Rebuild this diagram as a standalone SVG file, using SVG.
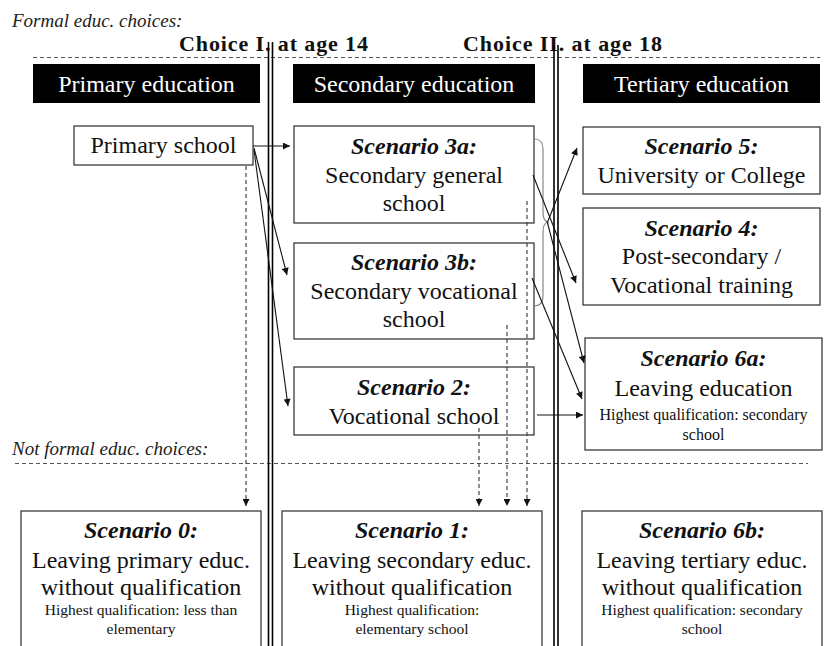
<svg xmlns="http://www.w3.org/2000/svg" width="829" height="646" viewBox="0 0 829 646">
<defs>
<style>
text{font-family:"Liberation Serif","Times New Roman",serif;fill:#111;}
.t{font-size:24px;text-anchor:middle;}
.h{font-size:24px;font-weight:bold;font-style:italic;text-anchor:middle;}
.s{font-size:16px;text-anchor:middle;}
.s2{font-size:15.5px;text-anchor:middle;}
.hdr{font-size:24px;fill:#fff;text-anchor:middle;}
.lbl{font-size:19px;font-style:italic;fill:#222;}
.ch{font-size:22px;font-weight:bold;}
.box{fill:#fff;stroke:#3a3a3a;stroke-width:1.3;}
.hbox{fill:#000;}
.dl{stroke:#555;stroke-width:1;stroke-dasharray:4 3;fill:none;}
.vl{stroke:#000;stroke-width:1.6;}
.ar{stroke:#111;stroke-width:1.1;fill:none;marker-end:url(#ah);}
.da{stroke:#333;stroke-width:1.1;stroke-dasharray:4 3;fill:none;marker-end:url(#ah);}
.br{stroke:#888;stroke-width:1.2;fill:none;}
</style>
<marker id="ah" viewBox="0 0 10 10" refX="10" refY="5" markerWidth="8" markerHeight="7" markerUnits="userSpaceOnUse" orient="auto">
<path d="M0,0 L10,5 L0,10 z" fill="#111"/>
</marker>
</defs>
<rect width="829" height="646" fill="#fff"/>

<g id="labels">
<text class="lbl" x="12" y="27">Formal educ. choices:</text>
<text class="lbl" x="12" y="455">Not formal educ. choices:</text>
<text class="ch" x="179" y="51" textLength="189">Choice I. at age 14</text>
<text class="ch" x="463" y="51" textLength="199">Choice II. at age 18</text>
</g>

<g id="dividers">
<line class="dl" x1="33" y1="57.5" x2="820" y2="57.5"/>
<line class="dl" x1="15" y1="463.5" x2="808" y2="463.5"/>
<line class="vl" x1="268.5" y1="42" x2="268.5" y2="646"/>
<line class="vl" x1="272.5" y1="42" x2="272.5" y2="646"/>
<line class="vl" x1="554" y1="45" x2="554" y2="646"/>
<line class="vl" x1="558" y1="45" x2="558" y2="646"/>
</g>

<g id="header-primary"><rect class="hbox" x="33" y="64" width="227" height="39"/><text class="hdr" x="146.5" y="92">Primary education</text></g>
<g id="header-secondary"><rect class="hbox" x="293" y="64" width="242" height="39"/><text class="hdr" x="414" y="92">Secondary education</text></g>
<g id="header-tertiary"><rect class="hbox" x="583" y="64" width="237" height="39"/><text class="hdr" x="701.5" y="92">Tertiary education</text></g>

<g id="primary-school"><rect class="box" x="74" y="126" width="179" height="39"/><text class="t" x="163.5" y="153">Primary school</text></g>

<g id="scenario-3a"><rect class="box" x="294" y="126" width="240" height="97"/>
<text class="h" x="414" y="154">Scenario 3a:</text><text class="t" x="414" y="183">Secondary general</text><text class="t" x="414" y="211">school</text></g>

<g id="scenario-3b"><rect class="box" x="294" y="243" width="240" height="96"/>
<text class="h" x="414" y="270">Scenario 3b:</text><text class="t" x="414" y="299">Secondary vocational</text><text class="t" x="414" y="327">school</text></g>

<g id="scenario-2"><rect class="box" x="294" y="367" width="240" height="68"/>
<text class="h" x="414" y="395">Scenario 2:</text><text class="t" x="414" y="424">Vocational school</text></g>

<g id="scenario-5"><rect class="box" x="583" y="127" width="237" height="67"/>
<text class="h" x="701.5" y="154">Scenario 5:</text><text class="t" x="701.5" y="183">University or College</text></g>

<g id="scenario-4"><rect class="box" x="583" y="208" width="237" height="97"/>
<text class="h" x="701.5" y="236">Scenario 4:</text><text class="t" x="701.5" y="264">Post-secondary /</text><text class="t" x="701.5" y="293">Vocational training</text></g>

<g id="scenario-6a"><rect class="box" x="585" y="338" width="237" height="112"/>
<text class="h" x="703.5" y="366">Scenario 6a:</text><text class="t" x="703.5" y="396">Leaving education</text>
<text class="s" x="703.5" y="420">Highest qualification:  secondary</text><text class="s" x="703.5" y="440">school</text></g>

<g id="scenario-0"><rect class="box" x="21" y="511" width="240" height="150"/>
<text class="h" x="141" y="538">Scenario 0:</text><text class="t" x="141" y="568">Leaving primary educ.</text><text class="t" x="141" y="595">without qualification</text>
<text class="s2" x="141" y="615">Highest qualification:  less than</text><text class="s2" x="141" y="634">elementary</text></g>

<g id="scenario-1"><rect class="box" x="282" y="511" width="260" height="150"/>
<text class="h" x="412" y="538">Scenario 1:</text><text class="t" x="412" y="568">Leaving secondary educ.</text><text class="t" x="412" y="595">without qualification</text>
<text class="s2" x="412" y="615">Highest qualification:</text><text class="s2" x="412" y="634">elementary  school</text></g>

<g id="scenario-6b"><rect class="box" x="582" y="511" width="240" height="150"/>
<text class="h" x="702" y="538">Scenario 6b:</text><text class="t" x="702" y="568">Leaving tertiary educ.</text><text class="t" x="702" y="595">without qualification</text>
<text class="s2" x="702" y="615">Highest qualification:  secondary</text><text class="s2" x="702" y="634">school</text></g>

<g id="connectors">
<path class="br" d="M534,139 Q543,139 543,149 L543,212 Q543,222 549,222 Q543,222 543,232 L543,296 Q543,306 534,306"/>
<line class="ar" x1="253" y1="146" x2="290" y2="146"/>
<line class="ar" x1="254" y1="148" x2="287" y2="275"/>
<line class="ar" x1="254" y1="150" x2="288" y2="406"/>
<line class="ar" x1="548" y1="221" x2="577" y2="148"/>
<line class="ar" x1="533" y1="175" x2="576" y2="283"/>
<line class="ar" x1="547" y1="221" x2="584" y2="363"/>
<line class="ar" x1="532" y1="278" x2="582" y2="399"/>
<line class="ar" x1="537" y1="415" x2="583" y2="415"/>
<line class="da" x1="246" y1="166" x2="246" y2="506"/>
<line class="da" x1="479" y1="428" x2="479" y2="506"/>
<line class="da" x1="507" y1="325" x2="507" y2="506"/>
<line class="da" x1="527" y1="201" x2="527" y2="506"/>
</g>
</svg>
